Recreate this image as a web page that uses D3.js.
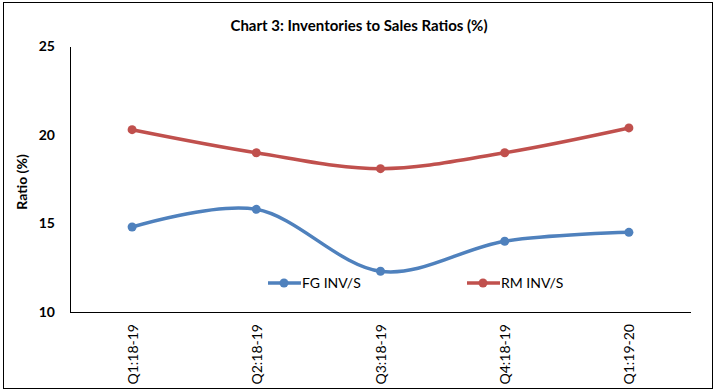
<!DOCTYPE html>
<html>
<head>
<meta charset="utf-8">
<script src="https://cdn.jsdelivr.net/npm/d3@7"></script>
<style>
  body { margin: 0; background: #fff; }
  text { font-family: Lato, "Open Sans", sans-serif; fill: #000; }
</style>
</head>
<body>
<div class="chart"></div>
<script>
// data
var quarters = ["Q1:18-19", "Q2:18-19", "Q3:18-19", "Q4:18-19", "Q1:19-20"];
var fgInvS = [14.8, 15.8, 12.3, 14.0, 14.5];
var rmInvS = [20.3, 19.0, 18.1, 19.0, 20.4];
var yTicks = [10, 15, 20, 25];

var series = [
  {name: "FG INV/S", values: fgInvS, color: "#4f81bd"},
  {name: "RM INV/S", values: rmInvS, color: "#c0504d"}
];

var W = 716, H = 392;
var margin = {top: 46.5, right: 25, bottom: 80, left: 70},
    width = 691 - margin.left,
    height = 312 - margin.top;

var svg = d3.select(".chart").append("svg")
    .attr("width", W)
    .attr("height", H);

// outer frame
svg.append("rect")
    .attr("x", 3.5).attr("y", 2.5)
    .attr("width", 709).attr("height", 386)
    .attr("fill", "none")
    .attr("stroke", "#000")
    .attr("stroke-width", 1);

svg.append("text")
    .attr("x", 359).attr("y", 31)
    .attr("text-anchor", "middle")
    .style("font-size", "15px")
    .style("font-weight", "bold")
    .text("Chart 3: Inventories to Sales Ratios (%)");

var g = svg.append("g")
    .attr("transform", "translate(" + margin.left + "," + margin.top + ")");

var x = d3.scalePoint()
    .domain(quarters)
    .range([0, width])
    .padding(0.5);

var y = d3.scaleLinear()
    .domain([10, 25])
    .range([height, 0]);

// y axis
var yAxis = g.append("g")
    .call(d3.axisLeft(y).tickValues(yTicks).tickSize(0).tickPadding(15));
yAxis.select(".domain").attr("stroke", "#000");
yAxis.selectAll("text")
    .style("font-family", "Lato, sans-serif")
    .style("font-size", "14px")
    .style("font-weight", "bold");

// x axis
var xAxis = g.append("g")
    .attr("transform", "translate(0," + height + ")")
    .call(d3.axisBottom(x).tickSize(0).tickPadding(0));
xAxis.select(".domain").attr("stroke", "#000").attr("d", "M0,0.5H" + width);
xAxis.selectAll("text")
    .style("font-family", "Lato, sans-serif")
    .style("font-size", "14px")
    .attr("transform", "rotate(-90)")
    .attr("text-anchor", "end")
    .attr("x", -12)
    .attr("y", 0)
    .attr("dy", "0.35em");

// y title
svg.append("text")
    .attr("transform", "translate(27,182) rotate(-90)")
    .attr("text-anchor", "middle")
    .style("font-size", "14px")
    .style("font-weight", "bold")
    .text("Ratio (%)");

var line = d3.line()
    .x(function(d, i) { return x(quarters[i]); })
    .y(function(d) { return y(d); })
    .curve(d3.curveCardinal.tension(0));

series.forEach(function(s) {
  g.append("path")
      .datum(s.values)
      .attr("fill", "none")
      .attr("stroke", s.color)
      .attr("stroke-width", 3.5)
      .attr("d", line);

  g.selectAll(null)
      .data(s.values)
    .enter().append("circle")
      .attr("cx", function(d, i) { return x(quarters[i]); })
      .attr("cy", function(d) { return y(d); })
      .attr("r", 4.5)
      .attr("fill", s.color);
});

// legend
var legend = svg.selectAll("g.legend")
    .data(series)
  .enter().append("g")
    .attr("class", "legend")
    .attr("transform", function(d, i) { return "translate(" + (268 + i * 199) + ",283)"; });

legend.append("line")
    .attr("x1", 0).attr("x2", 33)
    .attr("stroke", function(d) { return d.color; })
    .attr("stroke-width", 3.5);
legend.append("circle")
    .attr("cx", 16).attr("r", 4.5)
    .attr("fill", function(d) { return d.color; });
legend.append("text")
    .attr("x", 34).attr("dy", "0.35em")
    .style("font-size", "14px")
    .text(function(d) { return d.name; });
</script>
</body>
</html>
